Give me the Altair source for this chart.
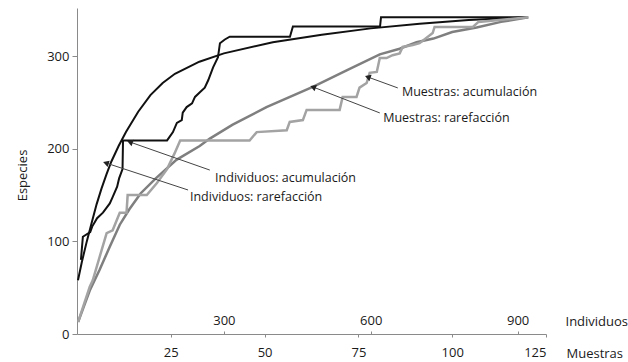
import math
import altair as alt
import pandas as pd

# --- Individual-based curves (top axis: Individuos) ---
ind_rare_n = [2, 10, 20, 30, 40, 50, 60, 70, 85, 100, 125, 150, 175, 200, 250, 300,
              400, 500, 600, 700, 800, 920]
ind_rare_s = [58, 78, 100, 120, 140, 157, 172, 186, 203, 218, 240, 258, 271, 281, 294, 303,
              315, 323, 330, 335, 339, 342]

ind_acum_n = [8, 12, 27, 31, 41, 53, 67, 73, 82, 86, 93, 94, 184, 196, 204, 214, 216, 224,
              235, 241, 251, 261, 268, 278, 288, 292, 302, 312, 435, 441, 619, 621, 921]
ind_acum_s = [80, 105, 110, 116, 125, 131, 141, 148, 159, 168, 178, 209, 209, 218, 228, 231,
              239, 245, 249, 256, 261, 266, 274, 288, 299, 314, 318, 321, 321, 332, 332, 342, 342]

# --- Sample-based curves (bottom axis: Muestras) ---
mue_rare_n = [0.3, 1.5, 3.4, 6, 8.7, 11.4, 14, 17, 21, 26.5, 32.7, 35.4, 41.5, 50.5, 63, 72,
              80.7, 86, 90.5, 95, 100, 106.5, 113, 120.3]
mue_rare_s = [13, 26, 47, 69, 94, 118, 135, 152, 168, 188, 203, 211, 226, 245, 267, 285,
              302, 308, 315, 319, 326, 331, 337, 342]

mue_acum_n = [0.3, 3.4, 4.2, 7.9, 9.5, 11.4, 13.2, 13.5, 18.6, 21.3, 24, 26, 27.5, 46, 47.9,
              55.9, 56.7, 60.2, 61.2, 70, 70.8, 74.5, 75.3, 77.2, 78, 79.9, 80.7, 82.5, 84.1,
              86, 86.8, 89.5, 91.3, 94.8, 95.3, 105.5, 107, 120.3]
mue_acum_s = [13, 51, 58, 109, 112, 131, 131, 150, 150, 163, 178, 195, 209, 209, 218,
              220, 229, 231, 242, 242, 256, 256, 266, 271, 282, 283, 298, 298, 301,
              303, 310, 312, 314, 325, 331.5, 331.5, 337, 342]

# --- Callout labels: text anchor, arrow tail and arrow tip (Muestras / Especies units) ---
labels = ["Individuos: acumulación", "Individuos: rarefacción",
          "Muestras: acumulación", "Muestras: rarefacción"]
label_x = [36.8, 30.1, 86.6, 81.6]
label_y = [168.5, 148, 261.3, 233.3]
tail_x = [35.4, 29.6, 85.5, 80.7]
tail_y = [177, 155.5, 265.7, 238.7]
tip_x = [14.1, 7.7, 77.5, 62.9]
tip_y = [207.3, 184.7, 277.5, 266.7]

W, H = 469, 326
MUE_MAX, IND_MAX, SP_MAX = 125, 958, 352
FONT = "Open Sans"
AXIS_GRAY = "#8a8a8a"
TEXT = "#1a1a1a"


def series(name, xs, ys):
    return pd.DataFrame({"x": xs, "s": ys, "serie": name, "i": list(range(len(xs)))})


ind_df = pd.concat([series("ind_rare", ind_rare_n, ind_rare_s),
                    series("ind_acum", ind_acum_n, ind_acum_s)])
mue_df = pd.concat([series("mue_rare", mue_rare_n, mue_rare_s),
                    series("mue_acum", mue_acum_n, mue_acum_s)])

# arrowhead orientation in screen space
sx, sy = W / MUE_MAX, H / SP_MAX
angles = []
for x0, y0, x1, y1 in zip(tail_x, tail_y, tip_x, tip_y):
    dx = (x1 - x0) * sx
    dy = -(y1 - y0) * sy
    angles.append(math.degrees(math.atan2(dx, -dy)) % 360)

ann_df = pd.DataFrame({"label": labels, "lx": label_x, "ly": label_y,
                       "x0": tail_x, "y0": tail_y, "x1": tip_x, "y1": tip_y,
                       "ang": angles})

y_scale = alt.Scale(domain=[0, SP_MAX], nice=False, zero=True)
y_axis = alt.Axis(values=[0, 100, 200, 300], grid=False, domainColor=AXIS_GRAY,
                  tickColor=AXIS_GRAY, tickSize=5, labelPadding=3,
                  labelFont=FONT, labelFontSize=13, labelColor=TEXT,
                  title="Especies", titleFont=FONT, titleFontSize=13,
                  titleFontWeight="normal", titleColor=TEXT, titleAngle=270,
                  titleX=-55, titleY=167, titleAlign="center", titleBaseline="middle")

ind_x = alt.X("x:Q", scale=alt.Scale(domain=[0, IND_MAX], nice=False, zero=True),
              axis=alt.Axis(orient="top", offset=-H, values=[300, 600, 900], domain=False,
                            grid=False, tickSize=3, tickColor=AXIS_GRAY, labelPadding=4,
                            labelFont=FONT, labelFontSize=13, labelColor=TEXT,
                            title="Individuos", titleFont=FONT, titleFontSize=13,
                            titleFontWeight="normal", titleColor=TEXT, titleX=488,
                            titleY=-13, titleAlign="left", titleBaseline="middle"))

mue_x = alt.X("x:Q", scale=alt.Scale(domain=[0, MUE_MAX], nice=False, zero=True),
              axis=alt.Axis(orient="bottom", values=[25, 50, 75, 100, 125], grid=False,
                            domainColor=AXIS_GRAY, tickColor=AXIS_GRAY, tickSize=3,
                            labelPadding=9, labelFont=FONT, labelFontSize=13,
                            labelColor=TEXT, title="Muestras", titleFont=FONT,
                            titleFontSize=13, titleFontWeight="normal", titleColor=TEXT,
                            titleX=489, titleY=19, titleAlign="left",
                            titleBaseline="middle"))

black = alt.Chart(ind_df).mark_line(color="#111111", strokeWidth=2).encode(
    x=ind_x,
    y=alt.Y("s:Q", scale=y_scale, axis=y_axis),
    detail="serie:N",
    order="i:Q",
)

gray = alt.Chart(mue_df).mark_line(strokeWidth=2.5).encode(
    x=mue_x,
    y=alt.Y("s:Q", scale=y_scale, axis=y_axis),
    color=alt.Color("serie:N", scale=alt.Scale(domain=["mue_rare", "mue_acum"],
                                               range=["#7f7f7f", "#a3a3a3"]), legend=None),
    order="i:Q",
)

arrows = alt.Chart(ann_df).mark_rule(color="#444444", strokeWidth=1).encode(
    x="x0:Q", y="y0:Q", x2="x1:Q", y2="y1:Q")

heads = alt.Chart(ann_df).mark_point(shape="triangle-up", filled=True, size=45,
                                     color="#222222", opacity=1).encode(
    x="x1:Q", y="y1:Q", angle=alt.Angle("ang:Q", scale=None))

texts = alt.Chart(ann_df).mark_text(align="left", baseline="middle", font=FONT,
                                    fontSize=12.5, color=TEXT).encode(
    x="lx:Q", y="ly:Q", text="label:N")

muestras_layer = alt.layer(gray, arrows, heads, texts)

chart = alt.layer(black, muestras_layer).resolve_scale(x="independent").properties(
    width=W, height=H,
    autosize=alt.AutoSizeParams(type="none"),
    padding={"left": 77, "top": 8, "right": 82, "bottom": 28},
    background="white",
).configure_view(stroke=None)

chart.save("out.html", embed_options={"renderer": "svg", "actions": False})
